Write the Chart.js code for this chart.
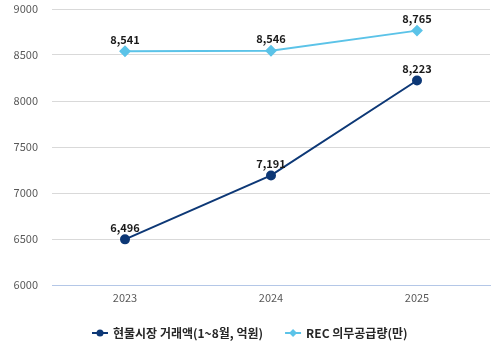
<!DOCTYPE html>
<html>
<head>
<meta charset="utf-8">
<script src="https://cdn.jsdelivr.net/npm/chart.js@4/dist/chart.umd.min.js"></script>
<style>
  html, body { margin: 0; padding: 0; background: #fff; }
  #wrap { width: 500px; height: 360px; }
</style>
</head>
<body>
<div id="wrap"><canvas id="chart" width="500" height="360"></canvas></div>
<script>
const years = ['2023', '2024', '2025'];
const spotTrade = [6496, 7191, 8223];   // 현물시장 거래액(1~8월, 억원)
const recQuota = [8541, 8546, 8765];    // REC 의무공급량(만)
const seriesNames = ['현물시장 거래액(1~8월, 억원)', 'REC 의무공급량(만)'];

const FONT = '"Noto Sans CJK KR", "Noto Sans", sans-serif';

// value labels above each point
const valueLabels = {
    id: 'valueLabels',
    afterDatasetsDraw(chart) {
        const ctx = chart.ctx;
        ctx.save();
        ctx.font = 'bold 11px ' + FONT;
        ctx.fillStyle = '#1a1a1a';
        ctx.textAlign = 'center';
        ctx.textBaseline = 'bottom';
        chart.data.datasets.forEach((ds, i) => {
            chart.getDatasetMeta(i).data.forEach((pt, j) => {
                ctx.fillText(ds.data[j].toLocaleString('en-US'), pt.x, pt.y - 6);
            });
        });
        ctx.restore();
    }
};

// legend drawn as line + marker like the original
const lineLegend = {
    id: 'lineLegend',
    afterDraw(chart) {
        const ctx = chart.ctx;
        const y = 333;
        let x = 92;
        ctx.save();
        ctx.font = 'bold 12px ' + FONT;
        ctx.textBaseline = 'middle';
        chart.data.datasets.forEach((ds, i) => {
            ctx.strokeStyle = ds.borderColor;
            ctx.lineWidth = 2;
            ctx.beginPath();
            ctx.moveTo(x, y);
            ctx.lineTo(x + 16, y);
            ctx.stroke();
            ctx.fillStyle = ds.borderColor;
            ctx.beginPath();
            if (ds.pointStyle === 'rectRot') {
                ctx.moveTo(x + 8, y - 4);
                ctx.lineTo(x + 12, y);
                ctx.lineTo(x + 8, y + 4);
                ctx.lineTo(x + 4, y);
                ctx.closePath();
            } else {
                ctx.arc(x + 8, y, 3.5, 0, Math.PI * 2);
            }
            ctx.fill();
            ctx.fillStyle = '#262626';
            ctx.fillText(ds.label, x + 21, y);
            x += 21 + ctx.measureText(ds.label).width + 22;
        });
        ctx.restore();
    }
};

new Chart(document.getElementById('chart'), {
    type: 'line',
    data: {
        labels: years,
        datasets: [{
            label: seriesNames[0],
            data: spotTrade,
            borderColor: '#0d3876',
            backgroundColor: '#0d3876',
            borderWidth: 2,
            pointStyle: 'circle',
            pointRadius: 4,
            tension: 0
        }, {
            label: seriesNames[1],
            data: recQuota,
            borderColor: '#5bc3e8',
            backgroundColor: '#5bc3e8',
            borderWidth: 2,
            pointStyle: 'rectRot',
            pointRadius: 4.5,
            tension: 0
        }]
    },
    options: {
        responsive: false,
        animation: false,
        layout: { padding: { top: 9, right: 10, bottom: 50, left: 0 } },
        plugins: {
            legend: { display: false },
            tooltip: { enabled: false }
        },
        scales: {
            x: {
                offset: true,
                grid: { display: false, drawTicks: false },
                border: { color: '#b4c7e7', width: 1 },
                ticks: { color: '#595959', font: { size: 11, family: FONT }, padding: 6 },
                afterFit(scale) { scale.height = 25; }
            },
            y: {
                min: 6000,
                max: 9000,
                ticks: {
                    stepSize: 500,
                    color: '#595959',
                    font: { size: 11, family: FONT },
                    padding: 14,
                    callback: v => String(v)
                },
                grid: { color: '#d9d9d9', drawTicks: false },
                border: { display: false },
                afterFit(scale) {
                    scale.width = 52;
                    scale.paddingTop = 0;
                    scale.paddingBottom = 0;
                }
            }
        }
    },
    plugins: [valueLabels, lineLegend]
});
</script>
</body>
</html>
